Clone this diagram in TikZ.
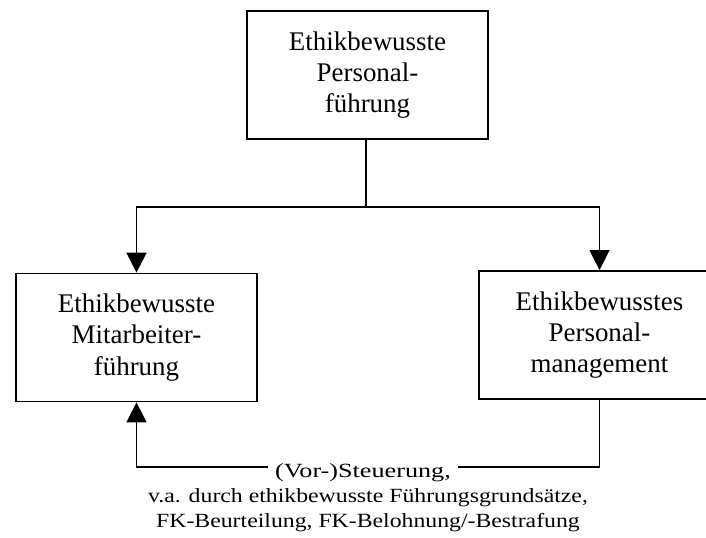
\documentclass[tikz,border=0pt]{standalone}
\usepackage{fontspec}
\setmainfont{Liberation Serif}
\newfontfamily\breit{Liberation Serif}[FakeStretch=1.18]
\newfontfamily\breiter{Liberation Serif}[FakeStretch=1.3]
\usetikzlibrary{arrows.meta}
\tikzset{
  kasten/.style={draw, line width=1.3pt, align=center, minimum width=180.75pt,
    minimum height=96pt, font=\fontsize{20.2}{23.5}\selectfont},
  fuss/.style={font=\breit\fontsize{15.1}{18.75}\selectfont},
  linie/.style={line width=1.1pt},
  pfeil/.style={line width=1.1pt, -{Triangle[length=15pt,width=15pt]}}
}
\begin{document}
\begin{tikzpicture}[x=0.75pt,y=-0.75pt]
        \useasboundingbox (0,0) rectangle (706,537);
        \node[kasten] (oben) at (367.5,75) {Ethikbewusste\\Personal-\\führung};
        \node[kasten] (links) at (136.5,337.5) {Ethikbewusste\\Mitarbeiter-\\führung};
        \node[kasten] (rechts) at (599.5,335) {Ethikbewusstes\\Personal-\\management};
        \coordinate (verzw) at (366,207);
        \draw[linie] (oben.south -| verzw) -- (verzw);
        \draw[pfeil] (verzw) -| (links.north);
        \draw[pfeil] (verzw) -| (rechts.north);
        % Steuerung von rechts nach links
        \node[font=\breiter\fontsize{15.1}{18.75}\selectfont, text height=15pt, text depth=0pt,
          inner sep=0pt, minimum width=142.5pt] (steuer) at (363,467) {(Vor-)Steuerung,};
        \node[fuss, align=center, anchor=base] (zusatz) at (368,527)
          {v.a. durch ethikbewusste Führungsgrundsätze,\\FK-Beurteilung, FK-Belohnung/-Bestrafung};
        \draw[linie] (rechts.south) |- (steuer.east);
        \draw[pfeil] (steuer.west) -| (links.south);
\end{tikzpicture}
\end{document}
